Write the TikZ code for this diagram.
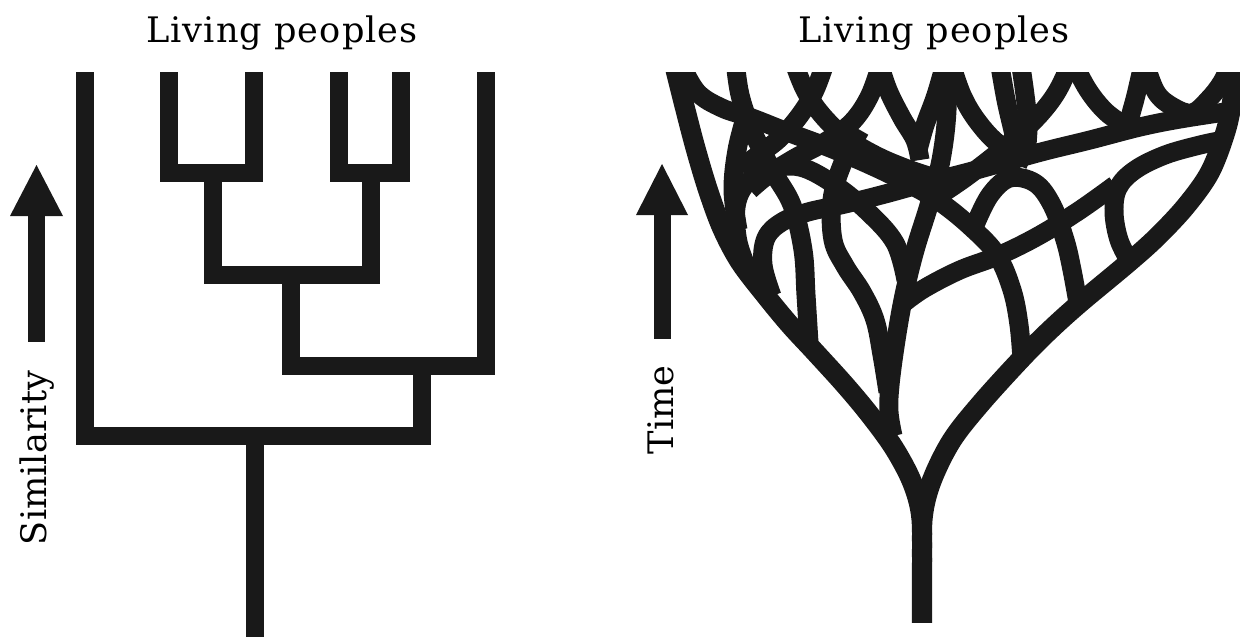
\documentclass[tikz,border=0pt]{standalone}
\usepackage{fontspec}
\setmainfont{DejaVu Serif}
\begin{document}
\begin{tikzpicture}[x=0.02cm,y=-0.02cm,
  bar/.style={line width=0.35cm,line join=miter,line cap=butt,black!90},
  vine/.style={line width=0.38cm,line join=round,line cap=butt,black!90},
  lbl/.style={font=\fontsize{20}{22}\selectfont,inner sep=0pt},
  ttl/.style={lbl,font=\fontsize{20}{22}\selectfont\addfontfeature{LetterSpace=3}},
  arrowhead/.style={fill=black!90,draw=none}]
\useasboundingbox[fill=white] (0,0) rectangle (1240,636);
% ---------- titles ----------
\node[ttl,anchor=base] (titleL) at (282,42) {Living peoples};
\node[ttl,anchor=base] (titleR) at (934,42) {Living peoples};
\node[lbl,anchor=base,rotate=90] (sim) at (46,458) {Similarity};
\node[lbl,anchor=base,rotate=90] (time) at (673,410) {Time};
% ---------- arrows ----------
\fill[arrowhead] (28,342) rectangle (45,214);
\fill[arrowhead] (10,216) -- (36.5,165) -- (63,216) -- cycle;
\fill[arrowhead] (654,339) rectangle (671,213);
\fill[arrowhead] (636,215) -- (662,164) -- (688,215) -- cycle;
% ---------- left tree ----------
\draw[bar] (169,72) -- (169,173) -- (254,173) -- (254,72);
\draw[bar] (339,72) -- (339,173) -- (401,173) -- (401,72);
\draw[bar] (213,173) -- (213,275) -- (371,275) -- (371,173);
\draw[bar] (486,72) -- (486,366) -- (291,366) -- (291,275);
\draw[bar] (85,72) -- (85,436) -- (422,436) -- (422,366);
\draw[bar] (255,436) -- (255,640);
% ---------- right network ----------
\begin{scope}
\clip (600,72) rectangle (1240,622);
% trunk and outer boundaries
\draw[vine,line width=0.40cm] plot[smooth,tension=0.55] coordinates {(922,640) (922,560) (921,515) (912,482) (894,448) (870,415) (845,385) (815,352) (790,325) (766,296) (740,262) (722,228) (708,190) (696,150) (686,112) (673,60)};
\draw[vine,line width=0.40cm] plot[smooth,tension=0.55] coordinates {(922,640) (922,560) (923,515) (932,480) (952,440) (982,402) (1023,357) (1050,330) (1080,303) (1128,263) (1157,237) (1186,206) (1210,172) (1226,130) (1233,95) (1236,60)};
% central stem
\draw[vine] plot[smooth,tension=0.6] coordinates {(946,60) (947,110) (941,160) (929,205) (915,250) (904,295) (896,340) (890,385) (889,412) (893,436)};
% left descenders
\draw[vine] plot[smooth,tension=0.6] coordinates {(750,275) (738,242) (736,207) (746,184) (768,170) (800,167) (835,185) (868,212) (895,243) (906,280)};
\draw[vine] plot[smooth,tension=0.6] coordinates {(738,230) (733,190) (737,150) (746,115)};
\draw[vine] plot[smooth,tension=0.6] coordinates {(772,296) (763,265) (766,238) (782,222) (808,212) (845,204) (885,194) (925,183) (965,173) (1005,162) (1045,151) (1090,140) (1140,127) (1180,119) (1232,111)};
\draw[vine] plot[smooth,tension=0.6] coordinates {(735,60) (740,95) (752,130) (772,170) (792,205) (803,250) (806,295) (809,343)};
\draw[vine] plot[smooth,tension=0.6] coordinates {(860,130) (842,165) (832,200) (833,240) (845,266) (862,292) (875,320) (882,355) (888,392)};
% long diagonal from the left cusp into the right link
\draw[vine] plot[smooth,tension=0.6] coordinates {(680,62) (697,92) (722,108) (752,118) (790,133) (830,148) (870,165) (905,182) (940,202) (972,228) (997,255) (1012,290) (1019,325) (1022,360)};
% upper legs
\draw[vine] plot[smooth,tension=0.6] coordinates {(793,60) (805,90) (822,115) (845,137) (875,155) (905,168) (935,178)};
\draw[vine] plot[smooth,tension=0.6] coordinates {(826,60) (815,90) (800,115) (780,138) (758,155) (740,168)};
\draw[vine] plot[smooth,tension=0.6] coordinates {(882,60) (870,95) (852,122) (825,142) (795,158) (768,175) (750,190)};
\draw[vine] plot[smooth,tension=0.6] coordinates {(878,60) (888,90) (902,118) (915,140) (920,160)};
\draw[vine] plot[smooth,tension=0.6] coordinates {(946,60) (936,95) (925,125) (918,150)};
\draw[vine] plot[smooth,tension=0.6] coordinates {(950,60) (962,95) (978,122) (1000,145) (1030,160)};
\draw[vine] plot[smooth,tension=0.6] coordinates {(999,60) (1006,100) (1014,135) (1020,165)};
\draw[vine] plot[smooth,tension=0.6] coordinates {(1020,60) (1025,95) (1028,125) (1026,155)};
\draw[vine] plot[smooth,tension=0.6] coordinates {(1072,60) (1058,90) (1042,112) (1022,132) (995,155) (965,178) (940,195)};
\draw[vine] plot[smooth,tension=0.6] coordinates {(1072,60) (1088,90) (1106,112) (1125,125) (1135,128)};
\draw[vine] plot[smooth,tension=0.6] coordinates {(1144,60) (1136,95) (1130,118) (1130,128)};
\draw[vine] plot[smooth,tension=0.6] coordinates {(1144,60) (1156,92) (1173,107) (1192,113) (1208,100) (1222,82) (1232,60)};
% right descenders
\draw[vine] plot[smooth,tension=0.6] coordinates {(975,225) (990,195) (1010,178) (1035,183) (1052,205) (1065,240) (1072,270) (1078,303)};
\draw[vine] plot[smooth,tension=0.6] coordinates {(1130,262) (1119,240) (1114,212) (1118,188) (1135,170) (1165,155) (1200,145) (1224,140)};
\draw[vine] plot[smooth,tension=0.6] coordinates {(905,302) (925,288) (960,270) (1000,255) (1040,235) (1080,210) (1115,185)};
\end{scope}
\end{tikzpicture}
\end{document}
